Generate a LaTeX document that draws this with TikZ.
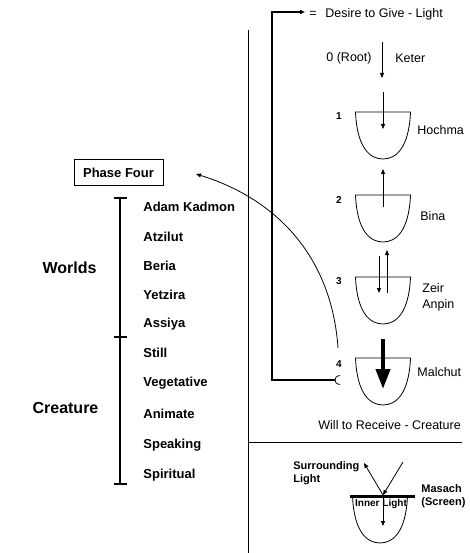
\documentclass[tikz,border=0pt]{standalone}
\usepackage{fontspec}
\setmainfont{Liberation Sans}
\usepackage{tikz}
\usetikzlibrary{arrows.meta}

\tikzset{
  lbl/.style={font=\fontsize{12.5}{16}\selectfont, inner sep=0pt, anchor=west},
  num/.style={font=\bfseries\fontsize{10}{12}\selectfont, inner sep=0pt},
  item/.style={font=\bfseries\fontsize{13}{15}\selectfont, inner sep=0pt, anchor=west},
  bigword/.style={font=\bfseries\fontsize{16}{18}\selectfont, inner sep=0pt},
  small/.style={font=\bfseries\fontsize{11}{13}\selectfont, inner sep=0pt, anchor=west, align=left},
  cup/.pic={\draw (-27.5,0) .. controls (-26,36) and (-13,47) .. (0,47) .. controls (13,47) and (26,36) .. (27.5,0) -- cycle;},
}

\begin{document}
\begin{tikzpicture}[x=1pt, y=-1pt, >={Triangle[length=5pt,width=4pt]}, line width=0.8pt]
        \useasboundingbox (0,0) rectangle (470,553);
        % dividers
        \coordinate (dtop) at (248,30);
        \coordinate (dbot) at (248,553);
        \coordinate (hl) at (248,442);
        \coordinate (hr) at (462,442);
        \draw (dtop) -- (dbot);
        \draw (hl) -- (hr);

        % Sefirot
        \pic (c1) at (383,112) {cup};
        \pic (c2) at (383,195) {cup};
        \pic (c3) at (383,277) {cup};
        \pic (c4) at (383,358) {cup};
        \node[num] (n1) at (339,116) {1};
        \node[num] (n2) at (339,200) {2};
        \node[num] (n3) at (339,281) {3};
        \node[num] (n4) at (339,364) {4};
        \node[lbl] (root) at (326,58) {0 (Root)};
        \node[lbl] (keter) at (395,58) {Keter};
        \node[lbl] (hochma) at (417,130) {Hochma};
        \node[lbl] (bina) at (420,216) {Bina};
        \node[lbl, align=left] (zeir) at (422,297) {Zeir\\Anpin};
        \node[lbl] (malchut) at (417,372) {Malchut};
        \node[lbl] (will) at (318,425) {Will to Receive - Creature};
        \node[lbl] (eq) at (309,14) {=};
        \node[lbl] (desire) at (325,14) {Desire to Give - Light};

        \coordinate (k0) at (382,42);  \coordinate (k1) at (382,78);
        \coordinate (h0) at (383,92);  \coordinate (h1) at (383,129);
        \coordinate (b0) at (383,207); \coordinate (b1) at (383,169);
        \coordinate (z0) at (379,256); \coordinate (z1) at (379,293);
        \coordinate (z2) at (387,293); \coordinate (z3) at (387,250);
        \coordinate (m0) at (383,339); \coordinate (m1) at (383,389);
        \draw[->] (k0) -- (k1);
        \draw[->] (h0) -- (h1);
        \draw[->] (b0) -- (b1);
        \draw[->] (z0) -- (z1);
        \draw[->] (z2) -- (z3);
        \draw[line width=4pt, -{Triangle[length=20pt,width=14pt]}] (m0) -- (m1);

        % return line
        \coordinate (r0) at (335,380);
        \coordinate (r1) at (272,380);
        \coordinate (r2) at (272,12);
        \coordinate (r3) at (305,12);
        \draw[line width=1.6pt, ->] (r0) -- (r1) -- (r2) -- (r3);
        \draw (340,375.5) .. controls (336,376) and (335,378) .. (335,380)
              .. controls (335,382) and (336,384) .. (340,384.5);

        % Phase Four
        \node[draw, line width=1pt, minimum width=89pt, minimum height=26pt, inner sep=0pt,
              font=\bfseries\fontsize{13}{15}\selectfont] (phase) at (118.5,173) {Phase Four};
        \coordinate (p0) at (338,348);
        \coordinate (p1) at (196,174);
        \draw[->] (p0) .. controls (332,260) and (280,200) .. (p1);

        % Worlds and Creature
        \coordinate (bt) at (120,198);
        \coordinate (bm) at (120,337);
        \coordinate (bb) at (120,484);
        \draw[line width=1.6pt] (bt) -- (bb);
        \foreach \p in {bt,bm,bb}
          \draw[line width=1.6pt] ([xshift=-6.5pt]\p) -- ([xshift=6.5pt]\p);
        \node[bigword] (worlds) at (69.5,268) {Worlds};
        \node[bigword] (creature) at (65.5,408) {Creature};
        \node[item] (w1) at (143,207) {Adam Kadmon};
        \node[item] (w2) at (143,237) {Atzilut};
        \node[item] (w3) at (143,266) {Beria};
        \node[item] (w4) at (143,295) {Yetzira};
        \node[item] (w5) at (143,324) {Assiya};
        \node[item] (s1) at (143,353) {Still};
        \node[item] (s2) at (143,383) {Vegetative};
        \node[item] (s3) at (143,414) {Animate};
        \node[item] (s4) at (143,445) {Speaking};
        \node[item] (s5) at (143,475) {Spiritual};

        % Masach
        \pic (c5) at (380,496) {cup};
        \coordinate (sl) at (350,496);
        \coordinate (sr) at (415,496);
        \coordinate (sm) at (383,495);
        \coordinate (a0) at (403,462);
        \coordinate (a1) at (364,463);
        \coordinate (a2) at (383,526);
        \draw[line width=3pt] (sl) -- (sr);
        \draw[->] (a0) -- (sm);
        \draw[->] (sm) -- (a1);
        \draw[->] (sm) -- (a2);
        \node[small] (surr) at (293,473.5) {Surrounding\\Light};
        \node[small] (masach) at (421,496) {Masach\\(Screen)};
        \node[font=\bfseries\fontsize{10}{12}\selectfont, inner sep=0pt] (inner) at (381,504) {Inner Light};
    \end{tikzpicture}
\end{document}
